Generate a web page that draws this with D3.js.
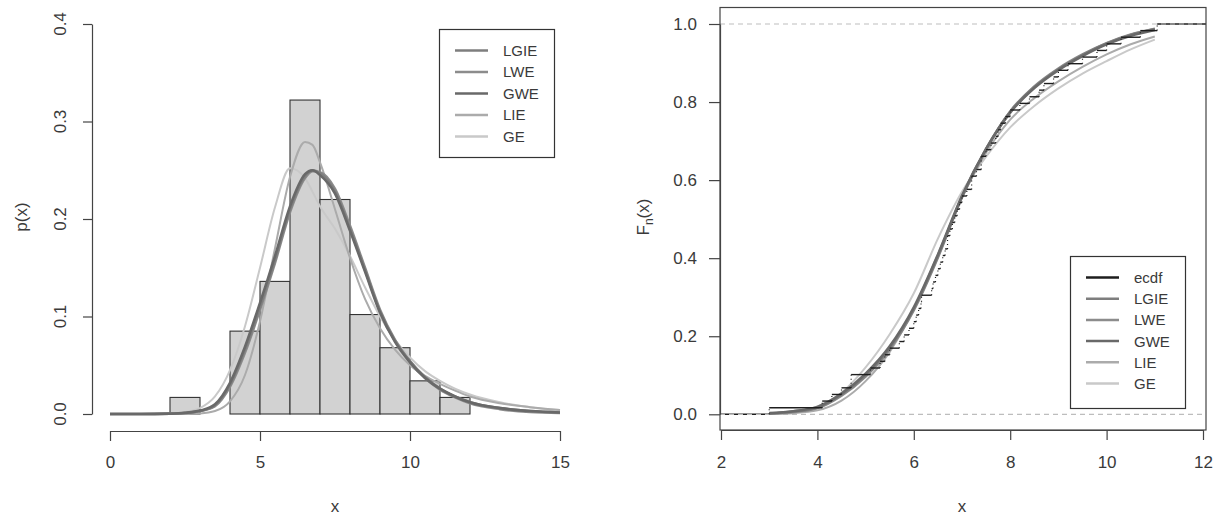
<!DOCTYPE html>
<html>
<head>
<meta charset="utf-8">
<script src="https://cdn.jsdelivr.net/npm/d3@7"></script>
<style>
  body { margin: 0; background: #fff; }
  svg text { font-family: "Liberation Sans", Arial, sans-serif; fill: #3a3a3a; }
</style>
</head>
<body>
<svg id="chart" width="1221" height="515"></svg>
<script>
// ---- data ----
var binEdges = [2, 3, 4, 5, 6, 7, 8, 9, 10, 11, 12]
var binDensity = [0.017, 0, 0.085, 0.136, 0.322, 0.220, 0.102, 0.068, 0.034, 0.017]

var denX    = [0, 1, 2, 2.5, 3, 3.5, 4, 4.5, 5, 5.5, 6, 6.5, 6.75, 7, 7.5, 8, 8.5, 9, 9.5, 10, 10.5, 11, 11.5, 12, 13, 14, 15]
var denLGIE = [0, 0, 0.0003, 0.001, 0.003, 0.009, 0.030, 0.066, 0.110, 0.158, 0.210, 0.244, 0.250, 0.247, 0.228, 0.190, 0.148, 0.105, 0.075, 0.054, 0.038, 0.026, 0.018, 0.012, 0.006, 0.003, 0.0015]
var denLWE  = [0, 0, 0.0003, 0.001, 0.003, 0.008, 0.028, 0.063, 0.107, 0.155, 0.207, 0.242, 0.249, 0.248, 0.231, 0.193, 0.150, 0.107, 0.076, 0.054, 0.037, 0.025, 0.017, 0.011, 0.005, 0.002, 0.001]
var denGWE  = [0, 0, 0.0004, 0.0012, 0.0035, 0.010, 0.032, 0.069, 0.114, 0.162, 0.213, 0.246, 0.250, 0.245, 0.226, 0.188, 0.146, 0.104, 0.074, 0.053, 0.037, 0.026, 0.018, 0.012, 0.006, 0.003, 0.0015]
var denLIE  = [0, 0, 0, 0, 0.0005, 0.003, 0.013, 0.040, 0.095, 0.170, 0.243, 0.279, 0.276, 0.258, 0.210, 0.160, 0.118, 0.088, 0.066, 0.050, 0.039, 0.031, 0.024, 0.018, 0.011, 0.007, 0.004]
var denGE   = [0, 0, 0.0005, 0.002, 0.006, 0.018, 0.045, 0.090, 0.150, 0.212, 0.252, 0.242, 0.228, 0.213, 0.190, 0.162, 0.130, 0.100, 0.076, 0.058, 0.044, 0.034, 0.026, 0.020, 0.012, 0.007, 0.004]

var sample = [3.0, 4.1, 4.3, 4.5, 4.7, 4.7, 5.1, 5.3, 5.4, 5.5, 5.7, 5.8, 5.9, 6.0,
  6.05, 6.1, 6.15, 6.16, 6.37, 6.4, 6.45, 6.5, 6.55, 6.6, 6.65, 6.7, 6.7, 6.75, 6.8, 6.85, 6.9, 6.95, 7.0,
  7.1, 7.2, 7.2, 7.3, 7.4, 7.4, 7.5, 7.6, 7.7, 7.75, 7.8, 7.9, 8.0,
  8.2, 8.4, 8.6, 8.7, 8.9, 9.0, 9.2, 9.5, 9.8, 10.0, 10.3, 10.7, 11.05]

var cdfX    = [3, 3.5, 4, 4.5, 5, 5.5, 6, 6.5, 7, 7.5, 8, 8.5, 9, 9.5, 10, 10.5, 11]
var cdfLGIE = [0.002, 0.007, 0.017, 0.050, 0.100, 0.170, 0.270, 0.405, 0.558, 0.680, 0.775, 0.838, 0.884, 0.920, 0.950, 0.972, 0.987]
var cdfLWE  = [0.002, 0.006, 0.016, 0.048, 0.097, 0.167, 0.267, 0.402, 0.556, 0.679, 0.776, 0.840, 0.886, 0.922, 0.951, 0.973, 0.988]
var cdfGWE  = [0.003, 0.008, 0.019, 0.053, 0.104, 0.174, 0.274, 0.409, 0.560, 0.680, 0.773, 0.836, 0.882, 0.918, 0.948, 0.970, 0.985]
var cdfLIE  = [0.001, 0.003, 0.010, 0.035, 0.085, 0.160, 0.270, 0.410, 0.555, 0.670, 0.755, 0.810, 0.853, 0.890, 0.922, 0.948, 0.968]
var cdfGE   = [0.002, 0.008, 0.020, 0.055, 0.120, 0.205, 0.310, 0.450, 0.570, 0.660, 0.735, 0.790, 0.835, 0.873, 0.905, 0.935, 0.960]

var seriesNames = ['LGIE', 'LWE', 'GWE', 'LIE', 'GE']
var seriesColors = ['#7e7e7e', '#8c8c8c', '#696969', '#ababab', '#c9c9c9']
var densities = [denLGIE, denLWE, denGWE, denLIE, denGE]
var cdfs = [cdfLGIE, cdfLWE, cdfGWE, cdfLIE, cdfGE]

var svg = d3.select('#chart')
var axisCol = '#444'
var tickFont = 17

function styleAxis(g, size) {
  g.select('.domain').attr('stroke', axisCol).attr('stroke-width', 1.2)
  g.selectAll('.tick line').attr('stroke', axisCol).attr('stroke-width', 1.2)
  g.selectAll('.tick text').attr('font-size', size).attr('fill', '#3a3a3a')
    .attr('font-family', '"Liberation Sans", Arial, sans-serif')
}

function legend(x0, y0, w, h, rows, spacing) {
  var lg = svg.append('g')
  lg.append('rect').attr('x', x0 + 0.5).attr('y', y0 + 0.5).attr('width', w).attr('height', h)
    .attr('fill', '#fff').attr('stroke', '#333').attr('stroke-width', 1.2)
  rows.forEach(function (r, i) {
    var yy = y0 + 21.5 + i * spacing
    lg.append('line').attr('x1', x0 + 16).attr('x2', x0 + 49).attr('y1', yy).attr('y2', yy)
      .attr('stroke', r.color).attr('stroke-width', 2.5)
    lg.append('text').attr('x', x0 + 64).attr('y', yy).attr('dy', '0.36em')
      .attr('font-size', 15).text(r.name)
  })
}

// ================= left panel: histogram + densities =================
var xL = d3.scaleLinear().domain([0, 15]).range([110, 560])
var yL = d3.scaleLinear().domain([0, 0.4]).range([414, 24])

var bars = binDensity.map(function (d, i) { return { x0: binEdges[i], x1: binEdges[i + 1], d: d } })
  .filter(function (b) { return b.d > 0 })
svg.append('g').selectAll('rect').data(bars).enter().append('rect')
  .attr('x', function (b) { return xL(b.x0) })
  .attr('y', function (b) { return yL(b.d) })
  .attr('width', function (b) { return xL(b.x1) - xL(b.x0) })
  .attr('height', function (b) { return yL(0) - yL(b.d) })
  .attr('fill', '#d2d2d2').attr('stroke', '#333').attr('stroke-width', 1.1)

var denLine = d3.line().curve(d3.curveMonotoneX)
  .x(function (d) { return xL(d[0]) }).y(function (d) { return yL(d[1]) })
// draw light ones first so the dark ones sit on top
;[4, 3, 1, 0, 2].forEach(function (k) {
  svg.append('path').datum(denX.map(function (x, i) { return [x, densities[k][i]] }))
    .attr('d', denLine).attr('fill', 'none')
    .attr('stroke', seriesColors[k]).attr('stroke-width', k > 2 ? 2 : 2.6)
})

var gyL = svg.append('g').attr('transform', 'translate(92,0)')
  .call(d3.axisLeft(yL).tickValues([0, 0.1, 0.2, 0.3, 0.4]).tickSize(9).tickSizeOuter(0).tickFormat(''))
styleAxis(gyL, tickFont)
svg.append('g').selectAll('text').data([0, 0.1, 0.2, 0.3, 0.4]).enter().append('text')
  .attr('transform', function (t) { return 'translate(66,' + yL(t) + ') rotate(-90)' })
  .attr('text-anchor', 'middle').attr('font-size', tickFont)
  .text(d3.format('.1f'))

var gxL = svg.append('g').attr('transform', 'translate(0,431)')
  .call(d3.axisBottom(xL).tickValues([0, 5, 10, 15]).tickSize(10).tickSizeOuter(0).tickPadding(15))
styleAxis(gxL, tickFont)

svg.append('text').attr('x', 335).attr('y', 512).attr('text-anchor', 'middle').attr('font-size', 17).text('x')
svg.append('text').attr('transform', 'translate(27,217) rotate(-90)').attr('text-anchor', 'middle')
  .attr('font-size', 17).text('p(x)')

legend(439, 29, 115, 128, seriesNames.map(function (n, i) { return { name: n, color: seriesColors[i] } }), 21.5)

// ================= right panel: ecdf + fitted cdfs =================
var xR = d3.scaleLinear().domain([2, 12]).range([721, 1203])
var yR = d3.scaleLinear().domain([0, 1]).range([414.3, 24])
var boxL = 720, boxR = 1206, boxT = 7.5, boxB = 430

// ecdf steps
var sorted = sample.slice().sort(d3.ascending)
var uniq = Array.from(new Set(sorted))
var n = sorted.length
var steps = uniq.map(function (u) { return { x: u, F: d3.bisectRight(sorted, u) / n } })
var last = steps.length - 1

// the two outer pieces at 0 and 1 sit under the dashed reference lines
var outer = svg.append('g')
outer.append('line').attr('x1', boxL).attr('x2', xR(steps[0].x))
  .attr('y1', yR(0)).attr('y2', yR(0)).attr('stroke', '#1e1e1e').attr('stroke-width', 1.4)
outer.append('line').attr('x1', xR(steps[last].x)).attr('x2', boxR)
  .attr('y1', yR(1)).attr('y2', yR(1)).attr('stroke', '#1e1e1e').attr('stroke-width', 1.4)

;[0, 1].forEach(function (v) {
  svg.append('line').attr('x1', boxL).attr('x2', boxR).attr('y1', yR(v)).attr('y2', yR(v))
    .attr('stroke', '#bdbdbd').attr('stroke-width', 1.2).attr('stroke-dasharray', '5,4')
})

var cdfLine = d3.line().curve(d3.curveMonotoneX)
  .x(function (d) { return xR(d[0]) }).y(function (d) { return yR(d[1]) })
;[4, 3, 1, 0, 2].forEach(function (k) {
  svg.append('path').datum(cdfX.map(function (x, i) { return [x, cdfs[k][i]] }))
    .attr('d', cdfLine).attr('fill', 'none')
    .attr('stroke', seriesColors[k]).attr('stroke-width', k > 2 ? 2 : 2.6)
})

var ecdfG = svg.append('g')
ecdfG.selectAll('line.h').data(steps.slice(0, last)).enter().append('line').attr('class', 'h')
  .attr('x1', function (s) { return xR(s.x) })
  .attr('x2', function (s, i) { return xR(steps[i + 1].x) })
  .attr('y1', function (s) { return yR(s.F) }).attr('y2', function (s) { return yR(s.F) })
  .attr('stroke', '#1e1e1e').attr('stroke-width', 1.4)
ecdfG.selectAll('line.v').data(steps).enter().append('line').attr('class', 'v')
  .attr('x1', function (s) { return xR(s.x) }).attr('x2', function (s) { return xR(s.x) })
  .attr('y1', function (s, i) { return yR(i ? steps[i - 1].F : 0) })
  .attr('y2', function (s) { return yR(s.F) })
  .attr('stroke', '#1e1e1e').attr('stroke-width', 1.2).attr('stroke-dasharray', '1,3')

svg.append('rect').attr('x', boxL).attr('y', boxT).attr('width', boxR - boxL).attr('height', boxB - boxT)
  .attr('fill', 'none').attr('stroke', axisCol).attr('stroke-width', 1.2)

var gyR = svg.append('g').attr('transform', 'translate(' + boxL + ',0)')
  .call(d3.axisLeft(yR).tickValues([0, 0.2, 0.4, 0.6, 0.8, 1]).tickSize(11).tickSizeOuter(0)
    .tickPadding(12).tickFormat(d3.format('.1f')))
styleAxis(gyR, tickFont)

var gxR = svg.append('g').attr('transform', 'translate(0,' + boxB + ')')
  .call(d3.axisBottom(xR).tickValues([2, 4, 6, 8, 10, 12]).tickSize(10).tickSizeOuter(0).tickPadding(16))
styleAxis(gxR, tickFont)

svg.append('text').attr('x', 962).attr('y', 512).attr('text-anchor', 'middle').attr('font-size', 17).text('x')
var fl = svg.append('text').attr('transform', 'translate(649,217) rotate(-90)').attr('text-anchor', 'middle')
  .attr('font-size', 17)
fl.append('tspan').text('F')
fl.append('tspan').attr('font-size', 12).attr('dy', 4).text('n')
fl.append('tspan').attr('dy', -4).text('(x)')

legend(1070, 256, 115, 152, [{ name: 'ecdf', color: '#1e1e1e' }].concat(
  seriesNames.map(function (n, i) { return { name: n, color: seriesColors[i] } })), 21.2)
</script>
</body>
</html>
